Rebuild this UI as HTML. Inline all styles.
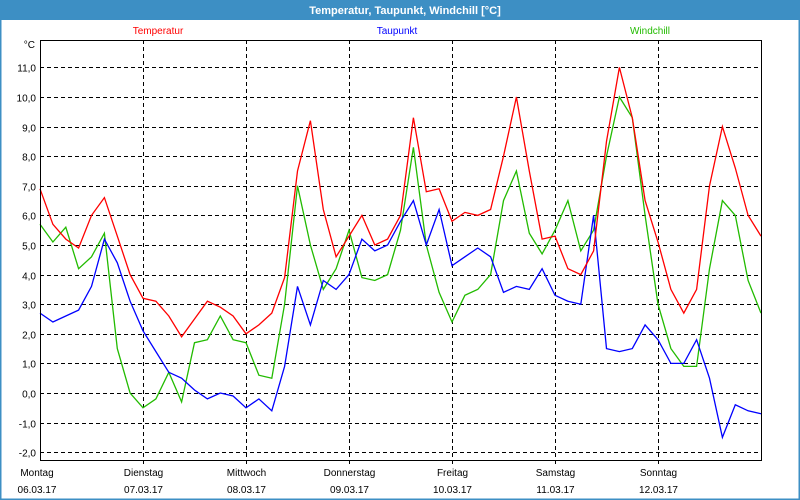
<!DOCTYPE html>
<html><head><meta charset="utf-8"><style>
html,body{margin:0;padding:0;background:#fff}
#wrap{width:800px;height:500px;position:relative;overflow:hidden;font-family:"Liberation Sans",sans-serif}
</style></head><body>
<div id="wrap">
<svg id="chart" width="800" height="500" xmlns="http://www.w3.org/2000/svg">
<rect x="0" y="0" width="800" height="500" fill="#fff" stroke="#3d8fc4" stroke-width="3"/>
<rect x="0" y="0" width="800" height="20" fill="#3d8fc4"/>
<text x="405" y="14" font-size="11" font-weight="bold" fill="#fff" text-anchor="middle">Temperatur, Taupunkt, Windchill [°C]</text>
<text x="158" y="34" font-size="10" fill="#ff0000" text-anchor="middle">Temperatur</text>
<text x="397" y="34" font-size="10" fill="#0000ff" text-anchor="middle">Taupunkt</text>
<text x="650" y="34" font-size="10" fill="#22bb00" text-anchor="middle">Windchill</text>
<text x="35" y="48" font-size="10" fill="#000" text-anchor="end">°C</text>
<g id="grid"></g><g id="series"></g><g id="labels"></g>
<line x1="40.5" y1="40" x2="40.5" y2="460" stroke="#000"/>
<line x1="40" y1="460.5" x2="762" y2="460.5" stroke="#000"/>
<line x1="761.5" y1="40" x2="761.5" y2="460" stroke="#000"/>
<line x1="40" y1="40.5" x2="762" y2="40.5" stroke="#000"/>
</svg>
</div>
<script>
const yTicks=[11,10,9,8,7,6,5,4,3,2,1,0,-1,-2];
const days=["Montag","Dienstag","Mittwoch","Donnerstag","Freitag","Samstag","Sonntag"];
const dates=["06.03.17","07.03.17","08.03.17","09.03.17","10.03.17","11.03.17","12.03.17"];
const stepHours=3;
const temperatur=[6.9,5.7,5.2,4.9,6.0,6.6,5.3,4.0,3.2,3.1,2.6,1.9,2.5,3.1,2.9,2.6,2.0,2.3,2.7,3.9,7.5,9.2,6.2,4.6,5.3,6.0,5.0,5.2,6.0,9.3,6.8,6.9,5.8,6.1,6.0,6.2,8.0,10.0,7.5,5.2,5.3,4.2,4.0,4.8,8.5,11.0,9.3,6.5,5.1,3.5,2.7,3.5,7.0,9.0,7.6,6.0,5.3];
const taupunkt=[2.7,2.4,2.6,2.8,3.6,5.2,4.4,3.1,2.1,1.4,0.7,0.5,0.1,-0.2,0.0,-0.1,-0.5,-0.2,-0.6,0.9,3.6,2.3,3.8,3.5,4.0,5.2,4.8,5.0,5.8,6.5,5.0,6.2,4.3,4.6,4.9,4.6,3.4,3.6,3.5,4.2,3.3,3.1,3.0,6.0,1.5,1.4,1.5,2.3,1.8,1.0,1.0,1.8,0.5,-1.5,-0.4,-0.6,-0.7];
const windchill=[5.7,5.1,5.6,4.2,4.6,5.4,1.5,0.0,-0.5,-0.2,0.7,-0.3,1.7,1.8,2.6,1.8,1.7,0.6,0.5,3.0,7.0,5.0,3.5,4.2,5.5,3.9,3.8,4.0,5.5,8.3,5.0,3.4,2.4,3.3,3.5,4.0,6.5,7.5,5.4,4.7,5.5,6.5,4.8,5.5,8.0,10.0,9.3,6.0,3.0,1.5,0.9,0.9,4.2,6.5,6.0,3.8,2.7];
const NS="http://www.w3.org/2000/svg";
function yS(v){return 393-29.6*v;}
function xS(h){return 40+h*103/24;}
const grid=document.getElementById('grid'),labels=document.getElementById('labels'),series=document.getElementById('series');
function mk(tag,attrs,parent){const e=document.createElementNS(NS,tag);for(const k in attrs)e.setAttribute(k,attrs[k]);parent.appendChild(e);return e;}
yTicks.forEach(v=>{
  const y=Math.round(yS(v))+0.5;
  const l=mk('line',{x1:40,y1:y,x2:761,y2:y,stroke:'#000','stroke-dasharray':'4,3'},grid);
  
  
  const t=mk('text',{x:36,y:y+4,'font-size':10,'text-anchor':'end',fill:'#000'},labels);
  t.textContent=v.toFixed(1).replace('.',',');
  
  
});
days.forEach((d,i)=>{
  const x=Math.round(xS(i*24))+0.5;
  if(i>0){
    const l=mk('line',{x1:x,y1:40,x2:x,y2:464,stroke:'#000','stroke-dasharray':'4,3'},grid);
    
    
  }
  const t=mk('text',{x:i===0?37:x,y:476,'font-size':10,'text-anchor':'middle',fill:'#000'},labels);
  t.textContent=d;
  
  
  const t2=mk('text',{x:i===0?37:x,y:493,'font-size':10,'text-anchor':'middle',fill:'#000'},labels);
  t2.textContent=dates[i];
  
  
});
function line(arr,color,name){
  const pts=arr.map((v,i)=>xS(i*stepHours).toFixed(1)+','+yS(v).toFixed(1)).join(' ');
  const p=mk('polyline',{points:pts,fill:'none',stroke:color,'stroke-width':1.3},series);
  
  
}
line(windchill,'#22bb00','windchill-line');
line(taupunkt,'#0000ff','taupunkt-line');
line(temperatur,'#ff0000','temperatur-line');
</script>
</body></html>
